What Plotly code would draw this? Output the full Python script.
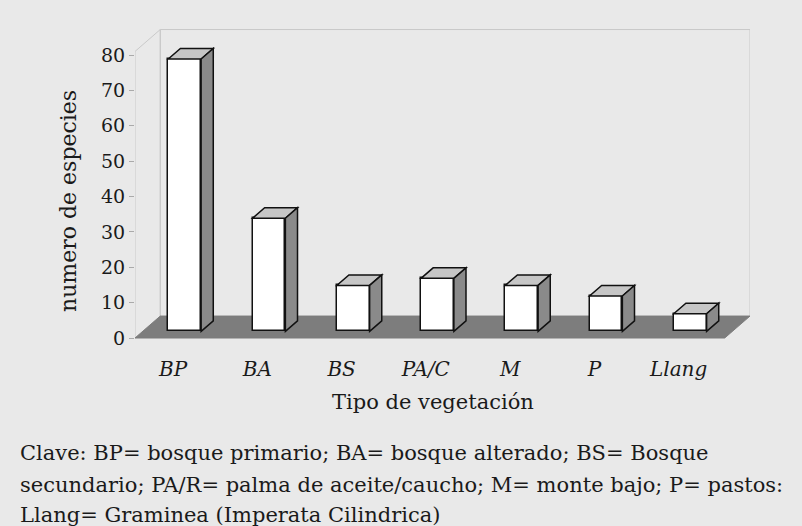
import plotly.graph_objects as go

# ---- data ----
categories = ["BP", "BA", "BS", "PA/C", "M", "P", "Llang"]
especies = [77, 32, 13, 15, 13, 10, 5]
y_ticks = [0, 10, 20, 30, 40, 50, 60, 70, 80]
caption_lines = [
    "Clave: BP= bosque primario; BA= bosque alterado; BS= Bosque",
    "secundario; PA/R= palma de aceite/caucho; M= monte bajo; P= pastos:",
    "Llang= Graminea (Imperata Cilindrica)",
]
x_title = "Tipo de vegetación"
y_title = "numero de especies"

# ---- geometry (3D look) ----
W, H = 802, 526
ML, MR, MT, MB = 135, 52, 25, 181
XR = [-0.5, 6.8]
YR = [-1.98, 88.48]
DX, DY = 0.3, 6.2        # full floor depth offset in data units
F1, F2 = 0.30, 0.78      # bar depth from/to (fraction of floor depth)
HW = 0.195               # half bar width
WALL_TOP = 81
FONT = "DejaVu Serif"
BG = "#e9e9e9"
TXT = "#1a1a1a"

fig = go.Figure()

xs = [i + F1 * DX for i in range(len(categories))]
fig.add_trace(go.Bar(
    x=xs, y=especies, base=[F1 * DY] * len(especies), width=2 * HW,
    marker=dict(color="white", line=dict(color="#111", width=1.5)),
    showlegend=False, hoverinfo="skip",
))

shapes = []
n = len(categories)
x_left, x_right = -0.5, n - 0.5
# back wall
shapes.append(dict(type="path", layer="below",
    path=f"M{x_left+DX},{DY} L{x_left+DX},{WALL_TOP+DY} L{x_right+DX},{WALL_TOP+DY} L{x_right+DX},{DY}",
    line=dict(color="#c9c9c9", width=1), fillcolor="rgba(0,0,0,0)"))
# left wall
shapes.append(dict(type="path", layer="below",
    path=f"M{x_left},{0} L{x_left},{WALL_TOP} L{x_left+DX},{WALL_TOP+DY} L{x_left+DX},{DY}",
    line=dict(color="#c9c9c9", width=1), fillcolor="rgba(0,0,0,0)"))
# floor
shapes.append(dict(type="path", layer="below",
    path=f"M{x_left},0 L{x_right},0 L{x_right+DX},{DY} L{x_left+DX},{DY} Z",
    line=dict(color="#7d7d7d", width=1), fillcolor="#7d7d7d"))

ddx, ddy = (F2 - F1) * DX, (F2 - F1) * DY
for i, v in enumerate(especies):
    x0 = i - HW + F1 * DX
    x1 = i + HW + F1 * DX
    y0 = F1 * DY
    y1 = F1 * DY + v
    # top face
    shapes.append(dict(type="path", layer="above",
        path=f"M{x0},{y1} L{x1},{y1} L{x1+ddx},{y1+ddy} L{x0+ddx},{y1+ddy} Z",
        line=dict(color="#111", width=1.5), fillcolor="#c6c6c6"))
    # side face
    shapes.append(dict(type="path", layer="above",
        path=f"M{x1},{y0} L{x1+ddx},{y0+ddy} L{x1+ddx},{y1+ddy} L{x1},{y1} Z",
        line=dict(color="#111", width=1.5), fillcolor="#8a8a8a"))

annotations = []
pw = W - ML - MR
ph = H - MT - MB
def px_to_paper(px, py):
    return (px - ML) / pw, (H - MB - py) / ph

for line, py in zip(caption_lines, [453, 485, 515]):
    ax, ay = px_to_paper(18, py)
    annotations.append(dict(text=line, x=ax, y=ay, xref="paper", yref="paper",
        xanchor="left", yanchor="middle", showarrow=False,
        font=dict(family=FONT, size=21, color=TXT)))

tx, ty = px_to_paper(433, 402)
annotations.append(dict(text=x_title, x=tx, y=ty, xref="paper", yref="paper",
    xanchor="center", yanchor="middle", showarrow=False,
    font=dict(family=FONT, size=21, color=TXT)))
tx, ty = px_to_paper(68, 201)
annotations.append(dict(text=y_title, x=tx, y=ty, xref="paper", yref="paper",
    xanchor="center", yanchor="middle", showarrow=False, textangle=-90,
    font=dict(family=FONT, size=22, color=TXT)))

fig.update_layout(
    width=W, height=H,
    margin=dict(l=ML, r=MR, t=MT, b=MB),
    paper_bgcolor=BG, plot_bgcolor=BG,
    shapes=shapes, annotations=annotations,
    xaxis=dict(range=XR, tickvals=list(range(n)), ticktext=categories,
               showgrid=False, zeroline=False, showline=False, ticks="",
               tickfont=dict(family=FONT, size=20, color=TXT, style="italic"),
               ticklabelshift=-4, ticklabelstandoff=10),
    yaxis=dict(range=YR, tickvals=y_ticks, showgrid=False, zeroline=False,
               showline=False, ticks="outside", ticklen=5, tickcolor="#aaaaaa",
               tickfont=dict(family=FONT, size=19, color=TXT)),
    bargap=0,
)

fig.write_html("out.html", config={"displayModeBar": False},
               post_script="document.body.style.margin='0';document.body.style.overflow='hidden';")
